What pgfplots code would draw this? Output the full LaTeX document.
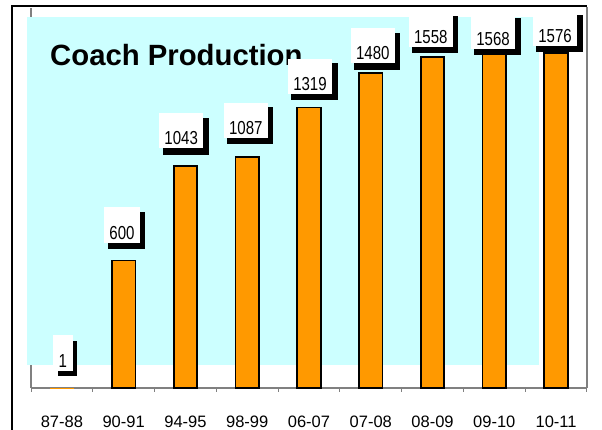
\documentclass[border=0pt]{standalone}
\usepackage{fontspec}
\setmainfont{Liberation Sans}
\usepackage{graphicx}
\usepackage{pgfplots}
\usepackage{pgfplotstable}
\pgfplotsset{compat=1.18}
\usetikzlibrary{shadows}
\definecolor{cyanbg}{HTML}{CCFFFF}
\definecolor{barorange}{HTML}{FF9900}
\definecolor{axgray}{HTML}{808080}
\pgfplotstableread{
x y dx dy
0 1 1 17
}\datafirst
\pgfplotstableread{
x y dx dy
1 600 -1.7 17
2 1043 -4.3 17
3 1087 -1.4 18
4 1319 1 13
5 1480 2 9
6 1558 -1.7 9
7 1568 -1.3 5
8 1576 -1 6
}\datarest
\begin{document}
\begin{tikzpicture}
\path[use as bounding box] (0pt,0pt) rectangle (602pt,430pt);
\fill[white] (0pt,0pt) rectangle (602pt,430pt);
\draw[black,line width=2pt] (12pt,0pt) -- (12pt,424pt) -- (587pt,424pt);
\draw[axgray,line width=1.2pt] (31pt,42pt) -- (31pt,422pt);
\draw[axgray,line width=1.2pt] (587pt,42pt) -- (587pt,423pt);
\fill[cyanbg] (27pt,65pt) rectangle (539pt,413pt);
\node[anchor=base west, inner sep=0pt, font=\fontsize{29.3}{32}\selectfont\bfseries] at (50pt,364pt) {Coach Production};
\begin{axis}[
  at={(31pt,42pt)}, anchor=south west,
  scale only axis, width=556pt, height=380pt,
  xmin=-0.5, xmax=8.5, ymin=0, ymax=1787,
  axis x line*=bottom, axis y line=none,
  x axis line style={axgray, line width=1.2pt},
  xtick={0,...,8},
  xticklabels={87-88,90-91,94-95,98-99,06-07,07-08,08-09,09-10,10-11},
  major tick length=0pt,
  minor xtick={-0.5,0.5,...,8.5},
  minor tick length=4pt, tick align=outside,
  every tick/.append style={axgray, line width=1pt},
  xticklabel style={anchor=base, inner sep=0pt, yshift=-40pt, font=\fontsize{16.5}{18}\selectfont},
  ytick=\empty,
  clip=false,
  ybar, bar width=23.5pt, bar shift=0pt,
  /pgf/number format/1000 sep={},
  /pgf/number format/assume math mode=true,
  visualization depends on={\thisrow{dx} \as \dx},
  visualization depends on={\thisrow{dy} \as \dy},
  nodes near coords={\scalebox{0.8}[1]{\pgfmathprintnumber{\pgfplotspointmeta}}},
  every node near coord/.append style={fill=white, anchor=south, inner xsep=5.5pt, inner ysep=0pt,
    text height=31.6pt, text depth=3.5pt, font=\fontsize{18.8}{20}\selectfont,
    drop shadow={shadow xshift=4.5pt, shadow yshift=-5.5pt, opacity=1, fill=black},
    xshift=\dx pt, yshift=\dy pt},
]
\addplot[fill=barorange, draw=none] table[x=x,y=y] {\datafirst};
\addplot[fill=barorange, draw=black, line width=1.8pt] table[x=x,y=y] {\datarest};
\end{axis}
\end{tikzpicture}
\end{document}
